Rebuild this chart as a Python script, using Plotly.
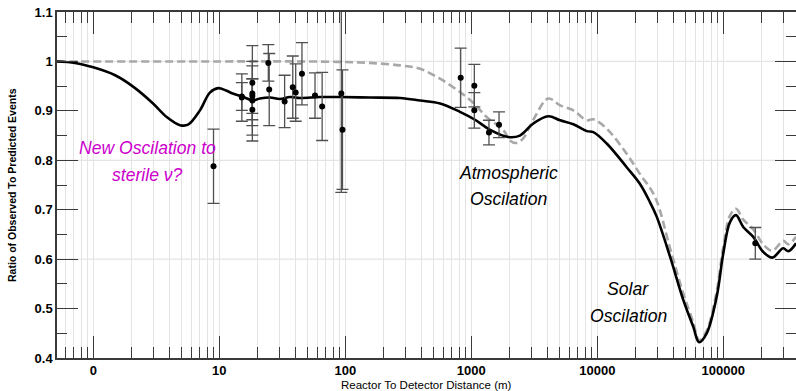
import plotly.graph_objects as go

# ---------------- data ----------------
# Solid black curve: 3-flavour + sterile oscillation expectation
curve_L = [0.515, 0.716, 1.0, 1.49, 2.07, 2.98, 3.85, 4.88, 5.65, 7.02, 8.42, 9.82,
           11.3, 12.8, 15.1, 16.6, 18.3, 21.0, 25.3, 30.3, 36.4, 43.7, 63.0, 90.8,
           157, 272, 392, 565, 813, 1070, 1400, 1960, 2430, 3090, 4085, 5060, 6450,
           8240, 9300, 11880, 17110, 21830, 26200, 29600, 37800, 48200, 57800, 64200,
           73800, 88600, 100000, 113000, 126000, 144000, 173000, 207000, 245000,
           299000, 328000, 378000]
curve_solid = [1.0, 0.997, 0.988, 0.972, 0.949, 0.915, 0.887, 0.871, 0.872, 0.901, 0.937, 0.946,
               0.941, 0.935, 0.929, 0.925, 0.921, 0.925, 0.927, 0.924, 0.928, 0.926, 0.928, 0.928,
               0.927, 0.926, 0.921, 0.915, 0.898, 0.882, 0.862, 0.847, 0.850, 0.874, 0.889, 0.881, 0.873,
               0.859, 0.857, 0.834, 0.786, 0.752, 0.715, 0.686, 0.605, 0.517, 0.463, 0.432,
               0.450, 0.524, 0.612, 0.675, 0.689, 0.665, 0.645, 0.615, 0.603,
               0.622, 0.616, 0.632]

# Dashed grey curve: standard 3-flavour expectation
dash_L = [0.515, 10.0, 43.7, 90.8, 157, 272, 392, 565, 813, 1050, 1330, 1800, 2030, 2265,
          2573, 3090, 4085, 5060, 6450, 8240, 9300, 11880, 17110, 21830, 28700, 37800,
          48200, 57800, 64200, 73800, 88600, 100000, 113000, 126000, 144000, 173000,
          207000, 245000, 299000, 328000, 378000]
curve_dash = [1.0, 1.0, 1.0, 0.999, 0.997, 0.992, 0.985, 0.965, 0.938, 0.915, 0.887, 0.861, 0.840, 0.835,
              0.844, 0.881, 0.925, 0.911, 0.901, 0.881, 0.883, 0.864, 0.813, 0.772, 0.726, 0.622,
              0.530, 0.472, 0.436, 0.455, 0.535, 0.625, 0.688, 0.702, 0.680, 0.660,
              0.630, 0.617, 0.637, 0.630, 0.645]

# Measurements (distance in m, ratio, 1-sigma error)
meas_L = [9.0, 15.1, 15.1, 18.3, 18.3, 18.3, 18.3, 18.3, 24.5, 24.9, 33.0, 38.3, 40.4,
          45.3, 57.5, 65.5, 93.0, 95.0, 824, 1057, 1057, 1381, 1660, 179500]
meas_R = [0.788, 0.927, 0.929, 0.957, 0.935, 0.921, 0.902, 0.930, 0.997, 0.943, 0.919, 0.948, 0.937,
          0.975, 0.931, 0.909, 0.935, 0.862, 0.967, 0.951, 0.901, 0.856, 0.872, 0.632]
meas_E = [0.075, 0.048, 0.028, 0.075, 0.065, 0.070, 0.063, 0.035, 0.037, 0.073, 0.053, 0.063, 0.058,
          0.063, 0.046, 0.069, 0.200, 0.121, 0.060, 0.043, 0.036, 0.025, 0.026, 0.032]

x_tickvals = [1, 10, 100, 1000, 10000, 100000]
x_ticktext = ["0", "10", "100", "1000", "10000", "100000"]
x_minor = [m * 10 ** d for d in range(-1, 6) for m in range(2, 10)]
y_tickvals = [0.4, 0.5, 0.6, 0.7, 0.8, 0.9, 1.0, 1.1]
y_ticktext = ["0.4", "0.5", "0.6", "0.7", "0.8", "0.9", "1", "1.1"]
y_minor = [0.45, 0.55, 0.65, 0.75, 0.85, 0.95, 1.05]
y_gridvals = [0.6, 0.8, 1.0]

# ---------------- figure ----------------
FONT = "Liberation Sans, Arial, sans-serif"
GRID = "#e4e4e4"
AX = "#3a3a3a"
PW, PH = 739, 346  # plot area in px

fig = go.Figure()

fig.add_trace(go.Scatter(x=dash_L, y=curve_dash, mode="lines", line_shape="spline",
                         line=dict(color="#a8a8a8", width=2.6, dash="8px,4px"),
                         hoverinfo="skip", showlegend=False))
fig.add_trace(go.Scatter(x=curve_L, y=curve_solid, mode="lines", line_shape="spline",
                         line=dict(color="black", width=2.6),
                         hoverinfo="skip", showlegend=False))
fig.add_trace(go.Scatter(x=meas_L, y=meas_R, mode="markers",
                         marker=dict(color="black", size=6),
                         error_y=dict(type="data", array=meas_E, visible=True,
                                      color="#505050", thickness=1.3, width=6),
                         showlegend=False))

shapes = [dict(type="line", xref="paper", x0=0, x1=1, yref="y", y0=v, y1=v,
               line=dict(color=GRID, width=1.2), layer="below") for v in y_gridvals]

annos = [
    dict(text="New Oscilation to", x=0.1225, y=0.607, color="#cc00cc"),
    dict(text="sterile \u03bd?", x=0.1225, y=0.528, color="#cc00cc"),
    dict(text="Atmospheric", x=0.6114, y=0.535, color="black"),
    dict(text="Oscilation", x=0.6114, y=0.459, color="black"),
    dict(text="Solar", x=0.7727, y=0.198, color="black"),
    dict(text="Oscilation", x=0.7727, y=0.121, color="black"),
]
annotations = [dict(text="<i>%s</i>" % a["text"], x=a["x"], y=a["y"], xref="paper", yref="paper",
                    showarrow=False, xanchor="center", yanchor="middle",
                    font=dict(family=FONT, size=17.6, color=a["color"])) for a in annos]
annotations.append(dict(text="Reactor To Detector Distance (m)", x=0.5, y=-26.5 / PH,
                        xref="paper", yref="paper", showarrow=False, xanchor="center",
                        yanchor="middle", font=dict(family=FONT, size=11.5, color="black")))
annotations.append(dict(text="<b>Ratio of Observed To Predicted Events</b>", x=-45 / PW,
                        y=0.5, xref="paper", yref="paper", showarrow=False, textangle=-90,
                        xanchor="center", yanchor="middle",
                        font=dict(family=FONT, size=10.5, color="black")))

fig.update_layout(
    width=796, height=391,
    margin=dict(l=57, r=0, t=12, b=33),
    paper_bgcolor="white", plot_bgcolor="white",
    shapes=shapes, annotations=annotations,
    xaxis=dict(type="log", range=[-0.288, 5.577], tickmode="array",
               tickvals=x_tickvals, ticktext=x_ticktext,
               ticks="inside", ticklen=22, tickwidth=1.3, tickcolor=AX,
               showline=True, linecolor=AX, linewidth=1.5, mirror="ticks",
               showgrid=True, gridcolor=GRID, gridwidth=1.2, zeroline=False,
               tickfont=dict(family=FONT, size=13, color="black", weight="bold"),
               minor=dict(tickmode="array", tickvals=x_minor, ticks="inside", ticklen=11,
                          tickwidth=1.3, tickcolor=AX, showgrid=True, gridcolor=GRID,
                          gridwidth=1.2),
               automargin=False),
    yaxis=dict(range=[0.4, 1.1], tickmode="array", tickvals=y_tickvals, ticktext=y_ticktext,
               ticks="inside", ticklen=21, tickwidth=1.3, tickcolor=AX,
               showline=True, linecolor=AX, linewidth=1.5, mirror="ticks",
               showgrid=False, zeroline=False, ticklabeloverflow="allow",
               tickfont=dict(family=FONT, size=13, color="black", weight="bold"),
               minor=dict(tickmode="array", tickvals=y_minor, ticks="inside", ticklen=10,
                          tickwidth=1.3, tickcolor=AX, showgrid=False),
               automargin=False),
)

# remove the browser's default 8px body margin so the figure fills the window
fig.write_html("out.html", config={"displayModeBar": False},
               post_script="document.body.style.margin='0';")
